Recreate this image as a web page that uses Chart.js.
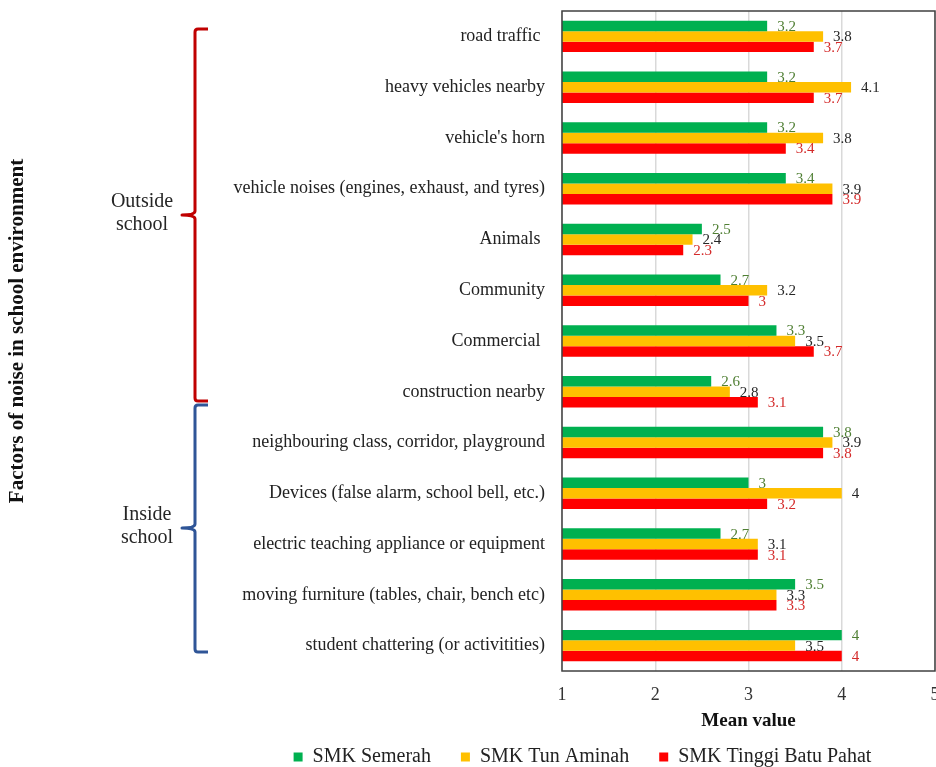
<!DOCTYPE html>
<html>
<head>
<meta charset="utf-8">
<script src="https://cdn.jsdelivr.net/npm/chart.js@4.4.1/dist/chart.umd.min.js"></script>
<style>
  html, body { margin: 0; padding: 0; background: #fff; overflow: hidden; }
  #wrap { width: 936px; height: 767px; position: relative; }
</style>
</head>
<body>
<div id="wrap"><canvas id="chart"></canvas></div>
<script>
const SERIF = '"Liberation Serif", "Times New Roman", serif';

const categories = [
    'road traffic ',
    'heavy vehicles nearby',
    "vehicle's horn",
    'vehicle noises (engines, exhaust, and tyres)',
    'Animals ',
    'Community',
    'Commercial ',
    'construction nearby',
    'neighbouring class, corridor, playground',
    'Devices (false alarm, school bell, etc.)',
    'electric teaching appliance or equipment',
    'moving furniture (tables, chair, bench etc)',
    'student chattering (or activitities)'
];
const seriesNames = ['SMK Semerah', 'SMK Tun Aminah', 'SMK Tinggi Batu Pahat'];
const semerah   = [3.2, 3.2, 3.2, 3.4, 2.5, 2.7, 3.3, 2.6, 3.8, 3,   2.7, 3.5, 4];
const tunAminah = [3.8, 4.1, 3.8, 3.9, 2.4, 3.2, 3.5, 2.8, 3.9, 4,   3.1, 3.3, 3.5];
const tinggi    = [3.7, 3.7, 3.4, 3.9, 2.3, 3,   3.7, 3.1, 3.8, 3.2, 3.1, 3.3, 4];
const xMin = 1, xMax = 5, xStep = 1;
const axisTitleY = 'Factors of noise in school environment';
const axisTitleX = 'Mean value';

const barColors   = ['#00b050', '#ffc000', '#ff0000'];
const labelColors = ['#4f7f33', '#262626', '#d42a2a'];

// group braces on the left (annotation only)
const groups = [
    { lines: ['Outside', 'school'], top: 29, bottom: 401, mid: 215, color: '#c00000', tx: 142 },
    { lines: ['Inside', 'school'],  top: 405, bottom: 652, mid: 528, color: '#2f5597', tx: 147 }
];

function brace(ctx, x, top, bottom, mid, color) {
    const hook = 13, tip = 13, r = 3;
    ctx.strokeStyle = color;
    ctx.lineWidth = 3;
    ctx.lineJoin = 'round';
    ctx.beginPath();
    ctx.moveTo(x + hook, top);
    ctx.lineTo(x + r, top);
    ctx.quadraticCurveTo(x, top, x, top + r);
    ctx.lineTo(x, mid - 4);
    ctx.quadraticCurveTo(x, mid, x - tip, mid);
    ctx.quadraticCurveTo(x, mid, x, mid + 4);
    ctx.lineTo(x, bottom - r);
    ctx.quadraticCurveTo(x, bottom, x + r, bottom);
    ctx.lineTo(x + hook, bottom);
    ctx.stroke();
}

const decorations = {
    id: 'decorations',
    afterDatasetsDraw(chart) {
        const ctx = chart.ctx;
        // value labels at bar ends
        ctx.save();
        ctx.font = '15px ' + SERIF;
        ctx.textBaseline = 'middle';
        ctx.textAlign = 'left';
        chart.data.datasets.forEach((ds, i) => {
            chart.getDatasetMeta(i).data.forEach((bar, j) => {
                ctx.fillStyle = labelColors[i];
                ctx.fillText(String(ds.data[j]), bar.x + 10, bar.y + 1);
            });
        });
        ctx.restore();
    },
    afterDraw(chart) {
        const { ctx, chartArea: a } = chart;
        ctx.save();
        // plot frame
        ctx.strokeStyle = '#404040';
        ctx.lineWidth = 1.5;
        ctx.strokeRect(a.left, a.top, a.right - a.left, a.bottom - a.top);

        // y axis title
        ctx.save();
        ctx.translate(18, 331);
        ctx.rotate(-Math.PI / 2);
        ctx.font = 'bold 21px ' + SERIF;
        ctx.fillStyle = '#111';
        ctx.textAlign = 'center';
        ctx.textBaseline = 'middle';
        ctx.fillText(axisTitleY, 0, 0);
        ctx.restore();

        // braces and group names
        groups.forEach(g => {
            brace(ctx, 195, g.top, g.bottom, g.mid, g.color);
            ctx.font = '20px ' + SERIF;
            ctx.fillStyle = '#262626';
            ctx.textAlign = 'center';
            ctx.textBaseline = 'middle';
            ctx.fillText(g.lines[0], g.tx, g.mid - 13);
            ctx.fillText(g.lines[1], g.tx, g.mid + 10);
        });
        ctx.restore();
    }
};

new Chart(document.getElementById('chart'), {
    type: 'bar',
    data: {
        labels: categories,
        datasets: [semerah, tunAminah, tinggi].map((d, i) => ({
            label: seriesNames[i],
            data: d,
            backgroundColor: barColors[i],
            borderWidth: 0,
            barPercentage: 1,
            categoryPercentage: 0.62
        }))
    },
    options: {
        indexAxis: 'y',
        responsive: true,
        maintainAspectRatio: false,
        animation: false,
        layout: { padding: { left: 230, right: 1, top: 11, bottom: -10 } },
        plugins: {
            legend: {
                position: 'bottom',
                labels: {
                    boxWidth: 9, boxHeight: 9, padding: 30,
                    color: '#222',
                    font: { family: SERIF, size: 20 }
                }
            },
            tooltip: { enabled: false }
        },
        scales: {
            x: {
                min: xMin, max: xMax,
                grid: { color: '#d9d9d9', lineWidth: 1.5, drawTicks: false },
                border: { display: false },
                ticks: {
                    stepSize: xStep, padding: 13, color: '#333',
                    font: { family: SERIF, size: 18 }
                },
                title: {
                    display: true, text: axisTitleX, color: '#111',
                    padding: { top: 0, bottom: -15 },
                    font: { family: SERIF, size: 19, weight: 'bold' }
                },
                afterFit: s => { s.paddingLeft = 0; s.paddingRight = 0; s.height = 46; }
            },
            y: {
                grid: { display: false, drawTicks: false },
                border: { display: false },
                ticks: {
                    padding: 17, color: '#222',
                    font: { family: SERIF, size: 18 }
                },
                afterFit: s => { s.paddingTop = 0; s.paddingBottom = 0; s.width = 332; }
            }
        }
    },
    plugins: [decorations]
});
</script>
</body>
</html>
